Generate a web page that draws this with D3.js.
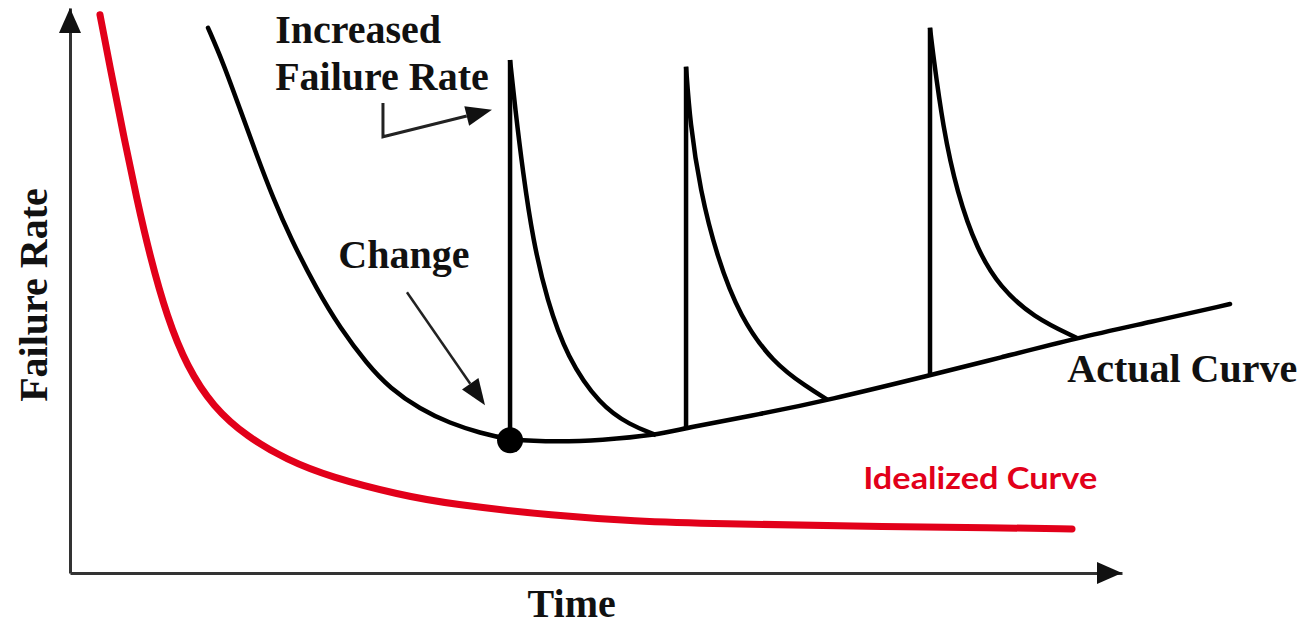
<!DOCTYPE html>
<html>
<head>
<meta charset="utf-8">
<script src="https://cdn.jsdelivr.net/npm/d3@7"></script>
<style>
  body { margin: 0; background: #fff; }
  svg { display: block; }
</style>
</head>
<body>
<div id="chart"></div>
<script>
// chart values, in time / failure-rate units (0..100 on both axes)
let idealTime = [2.85, 3.8, 5.04, 6.37, 7.6, 9.22, 11.12, 13.59, 16.83, 20.63, 24.71, 31.37, 36.12, 46.2, 53.52, 61.79, 74.14, 88.4, 95.25];
let idealRate = [98.8, 89.6, 77.9, 66.0, 56.1, 45.3, 36.5, 29.4, 24.1, 20.0, 17.0, 13.8, 12.2, 10.1, 9.2, 8.7, 8.3, 8.0, 7.8];

let actualTime = [13.12, 14.54, 16.16, 17.78, 19.3, 20.91, 23.48, 25.67, 28.23, 30.42, 33.27, 36.12, 38.97, 41.83, 46.58, 50.38, 55.7, 58.56, 65.59, 72.05, 81.75, 88.4, 95.72, 102.66, 110.27];
let actualRate = [96.5, 90.4, 82.1, 73.8, 66.4, 59.5, 50.1, 43.4, 37.0, 32.7, 29.0, 26.5, 24.8, 23.5, 23.2, 23.5, 24.4, 25.7, 28.1, 30.6, 35.0, 38.1, 41.6, 44.4, 47.6];

// each change makes a spike: it starts on the actual curve and decays back onto it
let spikeTime = [41.83, 58.56, 81.75];
let spikeBase = [23.5, 25.7, 35.0];
let spikePeak = [90.8, 89.6, 96.5];
let decayTime = [
  [42.3, 43.06, 44.01, 45.34, 47.24, 50.38, 53.23, 55.7],
  [58.94, 59.89, 61.5, 63.69, 66.83, 70.06, 72.05],
  [82.03, 82.98, 84.32, 86.22, 88.4, 91.54, 95.72]
];
let decayRate = [
  [82.5, 70.8, 58.9, 48.3, 38.2, 29.7, 26.2, 24.4],
  [79.7, 67.8, 55.9, 45.3, 37.2, 32.9, 30.6],
  [92.0, 78.9, 67.3, 57.2, 50.6, 45.3, 41.6]
];

let changeTime = 41.83;
let changeRate = 23.5;

let axisLabels = ["Time", "Failure Rate"];
let curveLabels = ["Actual Curve", "Idealized Curve"];
let noteLabels = ["Increased", "Failure Rate", "Change"];

let w = 1307, h = 626;

let viz = d3.select("#chart")
  .append("svg")
    .attr("width", w)
    .attr("height", h)
    .style("background-color", "white")
;

let xScale = d3.scaleLinear().domain([0, 100]).range([70, 1122]);
let yScale = d3.scaleLinear().domain([0, 100]).range([573, 8]);

function zip(ts, rs){
  return ts.map(function(t, i){ return {t: t, r: rs[i]}; });
}

// smooth line through the read-off points
let lineMaker = d3.line()
  .x(function(d){ return xScale(d.t); })
  .y(function(d){ return yScale(d.r); })
  .curve(d3.curveBasis)
;
let straight = d3.line()
  .x(function(d){ return xScale(d.t); })
  .y(function(d){ return yScale(d.r); })
;

// axes, no ticks, just the lines with arrow heads
let axisColor = "#333";
viz.append("g")
    .attr("transform", "translate(0," + yScale(0) + ")")
    .call(d3.axisBottom(xScale).tickValues([]).tickSizeOuter(0))
;
viz.append("g")
    .attr("transform", "translate(" + xScale(0) + ",0)")
    .call(d3.axisLeft(yScale).tickValues([]).tickSizeOuter(0))
;
viz.selectAll(".domain")
  .attr("stroke", axisColor)
  .attr("stroke-width", 3)
;

// arrow heads at the ends of the axes
let xEnd = xScale(100), yEnd = yScale(100);
viz.append("path")
  .attr("d", "M" + xEnd + "," + yScale(0) + " L" + (xEnd - 25) + "," + (yScale(0) - 11) + " L" + (xEnd - 25) + "," + (yScale(0) + 11) + " Z")
  .attr("fill", "#111");
viz.append("path")
  .attr("d", "M" + xScale(0) + "," + yEnd + " L" + (xScale(0) - 11) + "," + (yEnd + 25) + " L" + (xScale(0) + 11) + "," + (yEnd + 25) + " Z")
  .attr("fill", "#111");

// idealized curve
viz.append("path")
  .datum(zip(idealTime, idealRate))
  .attr("d", lineMaker)
  .attr("fill", "none")
  .attr("stroke", "#e2001a")
  .attr("stroke-width", 7)
  .attr("stroke-linecap", "round")
;

// actual curve
viz.append("path")
  .datum(zip(actualTime, actualRate))
  .attr("d", lineMaker)
  .attr("fill", "none")
  .attr("stroke", "#000")
  .attr("stroke-width", 4.5)
  .attr("stroke-linecap", "round")
;

// spikes
spikeTime.forEach(function(t, i){
  viz.append("path")
    .datum([{t: t, r: spikeBase[i]}, {t: t, r: spikePeak[i]}])
    .attr("d", straight)
    .attr("fill", "none")
    .attr("stroke", "#000")
    .attr("stroke-width", 4.5)
  ;
  let decay = [{t: t, r: spikePeak[i]}].concat(zip(decayTime[i], decayRate[i]));
  viz.append("path")
    .datum(decay)
    .attr("d", lineMaker)
    .attr("fill", "none")
    .attr("stroke", "#000")
    .attr("stroke-width", 4.5)
    .attr("stroke-linejoin", "round")
  ;
});

// change point
viz.append("circle")
  .attr("cx", xScale(changeTime))
  .attr("cy", yScale(changeRate))
  .attr("r", 13)
  .attr("fill", "#000")
;

// annotation arrows
function arrowHead(x1, y1, x2, y2, len, half){
  let a = Math.atan2(y2 - y1, x2 - x1);
  let bx = x2 - len * Math.cos(a), by = y2 - len * Math.sin(a);
  let px = -Math.sin(a) * half, py = Math.cos(a) * half;
  viz.append("path")
    .attr("d", "M" + x2 + "," + y2 + " L" + (bx + px) + "," + (by + py) + " L" + (bx - px) + "," + (by - py) + " Z")
    .attr("fill", "#111");
  return [bx, by];
}

let incPts = [{t: 29.75, r: 83.2}, {t: 29.75, r: 77.2}, {t: 40.11, r: 82.0}];
let p1 = incPts[1], p2 = incPts[2];
let incBase = arrowHead(xScale(p1.t), yScale(p1.r), xScale(p2.t), yScale(p2.r), 26, 10);
viz.append("path")
  .attr("d", "M" + xScale(incPts[0].t) + "," + yScale(incPts[0].r) +
             " L" + xScale(p1.t) + "," + yScale(p1.r) +
             " L" + incBase[0] + "," + incBase[1])
  .attr("fill", "none")
  .attr("stroke", "#222")
  .attr("stroke-width", 3)
;

let chgPts = [{t: 32.03, r: 49.7}, {t: 39.45, r: 29.7}];
let chgBase = arrowHead(xScale(chgPts[0].t), yScale(chgPts[0].r), xScale(chgPts[1].t), yScale(chgPts[1].r), 26, 10);
viz.append("line")
  .attr("x1", xScale(chgPts[0].t)).attr("y1", yScale(chgPts[0].r))
  .attr("x2", chgBase[0]).attr("y2", chgBase[1])
  .attr("stroke", "#222")
  .attr("stroke-width", 2.5)
;

// texts
let serif = "'Liberation Serif', 'Times New Roman', serif";
function label(txt, t, r, opts){
  let el = viz.append("text")
    .attr("x", xScale(t))
    .attr("y", yScale(r))
    .attr("font-family", opts.family || serif)
    .attr("font-weight", "bold")
    .attr("font-size", opts.size || 40)
    .attr("fill", opts.color || "#111")
    .text(txt);
  if (opts.length) el.attr("textLength", opts.length).attr("lengthAdjust", "spacingAndGlyphs");
  return el;
}

label(noteLabels[0], 19.5, 93.8, {});
label(noteLabels[1], 19.5, 85.5, {});
label(noteLabels[2], 25.5, 54.0, {});
label(curveLabels[0], 94.8, 33.8, {});
label(curveLabels[1], 75.4, 14.9, {family: "Lato, 'Open Sans', sans-serif", size: 31, color: "#e2001a", length: 234});
label(axisLabels[0], 43.5, -7.8, {});

viz.append("text")
  .attr("transform", "translate(47," + yScale(49.2) + ") rotate(-90)")
  .attr("text-anchor", "middle")
  .attr("font-family", serif)
  .attr("font-weight", "bold")
  .attr("font-size", 40)
  .attr("fill", "#111")
  .text(axisLabels[1])
;
</script>
</body>
</html>
